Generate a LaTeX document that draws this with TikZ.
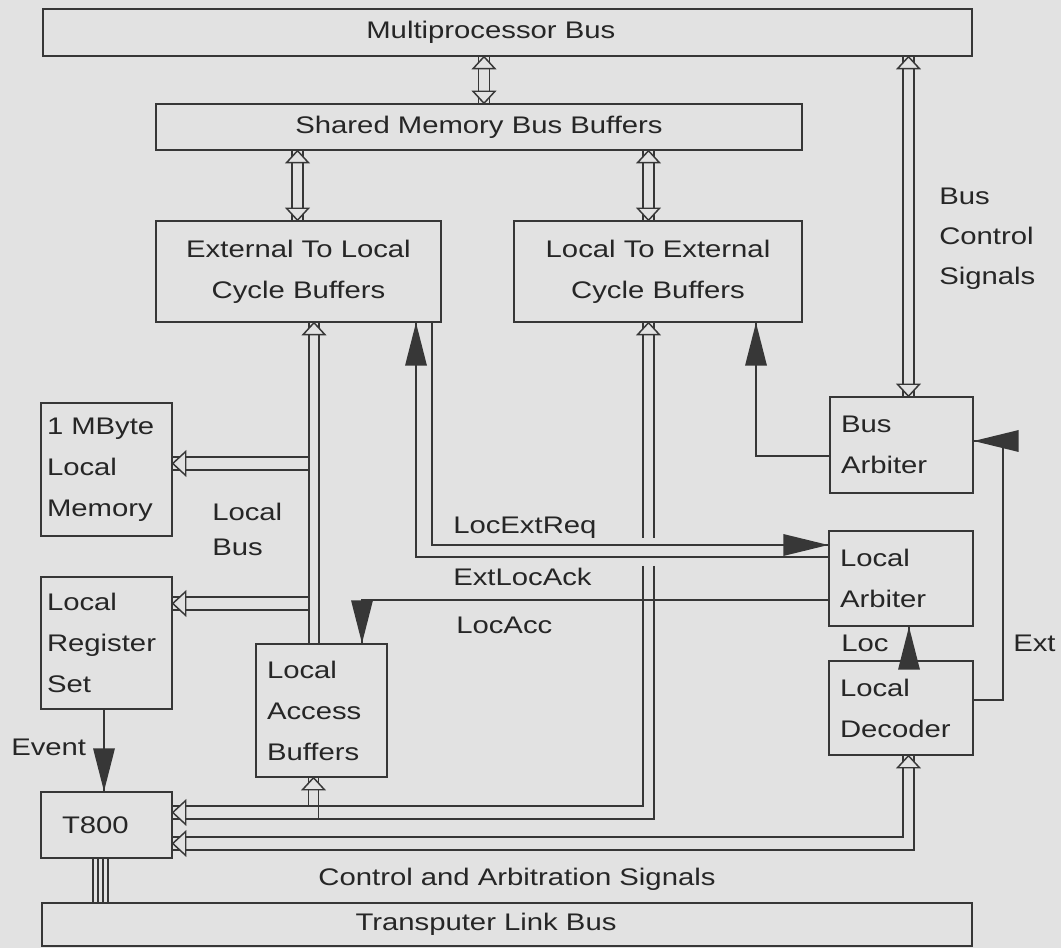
\documentclass[tikz,border=0pt]{standalone}
\usepackage{fontspec}
\setmainfont{Liberation Sans}[FakeStretch=1.22]
\usetikzlibrary{calc}
\definecolor{bg}{RGB}{226,226,226}
\definecolor{lc}{RGB}{55,55,55}
\definecolor{tc}{RGB}{38,38,38}
\newcommand\OAup[1]{\filldraw[ln,fill=bg] (#1) -- ++(-11,12) -- ++(22,0) -- cycle;}
\newcommand\OAdown[1]{\filldraw[ln,fill=bg] (#1) -- ++(-11,-12) -- ++(22,0) -- cycle;}
\newcommand\OAleft[1]{\filldraw[ln,fill=bg] (#1) -- ++(13,-12) -- ++(0,24) -- cycle;}
\newcommand\FAup[1]{\fill[lc] (#1) -- ++(-11,43) -- ++(22,0) -- cycle;}
\newcommand\FAdown[1]{\fill[lc] (#1) -- ++(-11,-43) -- ++(22,0) -- cycle;}
\newcommand\FAleft[1]{\fill[lc] (#1) -- ++(45,-11) -- ++(0,22) -- cycle;}
\newcommand\FAright[1]{\fill[lc] (#1) -- ++(-45,-11) -- ++(0,22) -- cycle;}
\begin{document}
\begin{tikzpicture}[x=0.75pt,y=-0.75pt,
  every node/.style={font=\fontsize{18pt}{30.75pt}\selectfont, text=tc},
  ln/.style={draw=lc, line width=1.1pt},
  box/.style={draw=lc, line width=1.1pt, inner sep=0pt},
  lbox/.style={box, align=left},
  lbl/.style={inner sep=0pt}]
\useasboundingbox (0,0) rectangle (1061,948);
\fill[bg] (0,0) rectangle (1061,948);

% boxes
\node[box, minimum width=696.75pt, minimum height=35.25pt] (mp) at (507.5,32.5) {Multiprocessor Bus\hspace*{25pt}};
\node[box, minimum width=484.5pt, minimum height=34.5pt] (smbb) at (479,127) {Shared Memory Bus Buffers};
\node[box, align=center, minimum width=213.75pt, minimum height=75.75pt] (elcb) at (298.5,271.5) {External To Local\\Cycle Buffers};
\node[box, align=center, minimum width=216pt, minimum height=75.75pt] (lecb) at (658,271.5) {Local To External\\Cycle Buffers};
\node[lbox, text width=89.25pt, inner xsep=4.5pt, minimum height=99.75pt] (mem) at (106.5,469.5) {1 MByte\\Local\\Memory};
\node[lbox, text width=89.25pt, inner xsep=4.5pt, minimum height=99pt] (reg) at (106.5,643) {Local\\Register\\Set};
\node[lbox, text width=81.75pt, inner xsep=8.25pt, minimum height=99.75pt] (lab) at (321.5,710.5) {Local\\Access\\Buffers};
\node[lbox, text width=66.75pt, inner xsep=15.75pt, minimum height=49.5pt] (t800) at (106.5,825) {T800};
\node[lbox, text width=90.75pt, inner xsep=8.25pt, minimum height=72pt] (barb) at (901.5,445) {Bus\\Arbiter};
\node[lbox, text width=91.5pt, inner xsep=8.25pt, minimum height=71.25pt] (larb) at (901,578.5) {Local\\Arbiter};
\node[lbox, text width=91.5pt, inner xsep=8.25pt, minimum height=70.5pt] (ldec) at (901,708) {Local\\Decoder};
\node[box, minimum width=697.5pt, minimum height=32.25pt] (tlb) at (507,924.5) {Transputer Link Bus\hspace*{31.5pt}};

% labels
\node[lbl, anchor=west, align=left, font=\fontsize{18pt}{30pt}\selectfont] (bcs) at (939,239) {Bus\\Control\\Signals};
\node[lbl, anchor=west, align=left, font=\fontsize{18pt}{26.25pt}\selectfont] (lbus) at (212,529.5) {Local\\Bus};
\node[lbl, anchor=base west] (ler) at (453,533.5) {LocExtReq};
\node[lbl, anchor=base west] (ela) at (453,585.5) {ExtLocAck};
\node[lbl, anchor=base west] (lacc) at (456,633.5) {LocAcc};
\node[lbl, anchor=base west] (locl) at (841,651.5) {Loc};
\node[lbl, anchor=base west] (extl) at (1013,651.5) {Ext};
\node[lbl, anchor=base west] (evt) at (11,755.5) {Event};
\node[lbl, anchor=base] (cas) at (517,885.5) {Control and Arbitration Signals};

% double bus connectors
\draw[ln] (478.5,0 |- mp.south) -- (478.5,0 |- smbb.north);
\draw[ln] (489.5,0 |- mp.south) -- (489.5,0 |- smbb.north);
\OAup{484,0 |- mp.south}
\OAdown{484,0 |- smbb.north}

\draw[ln] (292,0 |- smbb.south) -- (292,0 |- elcb.north);
\draw[ln] (303,0 |- smbb.south) -- (303,0 |- elcb.north);
\OAup{297.5,0 |- smbb.south}
\OAdown{297.5,0 |- elcb.north}

\draw[ln] (643,0 |- smbb.south) -- (643,0 |- lecb.north);
\draw[ln] (654,0 |- smbb.south) -- (654,0 |- lecb.north);
\OAup{648.5,0 |- smbb.south}
\OAdown{648.5,0 |- lecb.north}

\draw[ln] (903,0 |- mp.south) -- (903,0 |- barb.north);
\draw[ln] (914,0 |- mp.south) -- (914,0 |- barb.north);
\OAup{908.5,0 |- mp.south}
\OAdown{908.5,0 |- barb.north}

% local bus
\draw[ln] (309,0 |- elcb.south) -- (309,0 |- lab.north);
\draw[ln] (319,0 |- elcb.south) -- (319,0 |- lab.north);
\OAup{314,0 |- elcb.south}
\draw[ln] (309,457) -- (mem.east |- 0,457);
\draw[ln] (309,470) -- (mem.east |- 0,470);
\OAleft{mem.east |- 0,463.5}
\draw[ln] (309,597) -- (reg.east |- 0,597);
\draw[ln] (309,610) -- (reg.east |- 0,610);
\OAleft{reg.east |- 0,603.5}

% local-to-external double line down to T800
\draw[ln] (643,0 |- lecb.south) -- (643,538);
\draw[ln] (643,566) -- (643,806) -- (t800.east |- 0,806);
\draw[ln] (654,0 |- lecb.south) -- (654,538);
\draw[ln] (654,566) -- (654,819) -- (t800.east |- 0,819);
\OAup{648.5,0 |- lecb.south}
\OAleft{t800.east |- 0,812.5}

% local access buffers bottom
\draw[ln] (308.5,806) -- (308.5,0 |- lab.south);
\draw[ln] (318.5,819) -- (318.5,0 |- lab.south);
\OAup{313.5,0 |- lab.south}

% local decoder to T800
\draw[ln] (t800.east |- 0,837) -- (903,837) -- (903,0 |- ldec.south);
\draw[ln] (t800.east |- 0,850) -- (914,850) -- (914,0 |- ldec.south);
\OAup{908.5,0 |- ldec.south}
\OAleft{t800.east |- 0,843.5}

% control signals
\draw[ln] (larb.west |- 0,557) -- (416,557) -- (416,0 |- elcb.south);
\FAup{416,0 |- elcb.south}
\draw[ln] (432,0 |- elcb.south) -- (432,545) -- (larb.west |- 0,545);
\FAright{larb.west |- 0,545}
\draw[ln] (larb.west |- 0,600) -- (362,600) -- (362,0 |- lab.north);
\FAdown{362,0 |- lab.north}
\draw[ln] (barb.west |- 0,456) -- (756,456) -- (756,0 |- lecb.south);
\FAup{756,0 |- lecb.south}
\draw[ln] (ldec.east |- 0,700) -- (1003,700) -- (1003,441) -- (barb.east |- 0,441);
\FAleft{barb.east |- 0,441}
\draw[ln] (909,0 |- ldec.north) -- (909,0 |- larb.south);
\FAup{909,0 |- larb.south}
\draw[ln] (104,0 |- reg.south) -- (104,0 |- t800.north);
\FAdown{104,0 |- t800.north}

% transputer links
\foreach \xx in {93,98,103,108}
  \draw[draw=lc, line width=0.8pt] (\xx,0 |- t800.south) -- (\xx,0 |- tlb.north);
\end{tikzpicture}
\end{document}
